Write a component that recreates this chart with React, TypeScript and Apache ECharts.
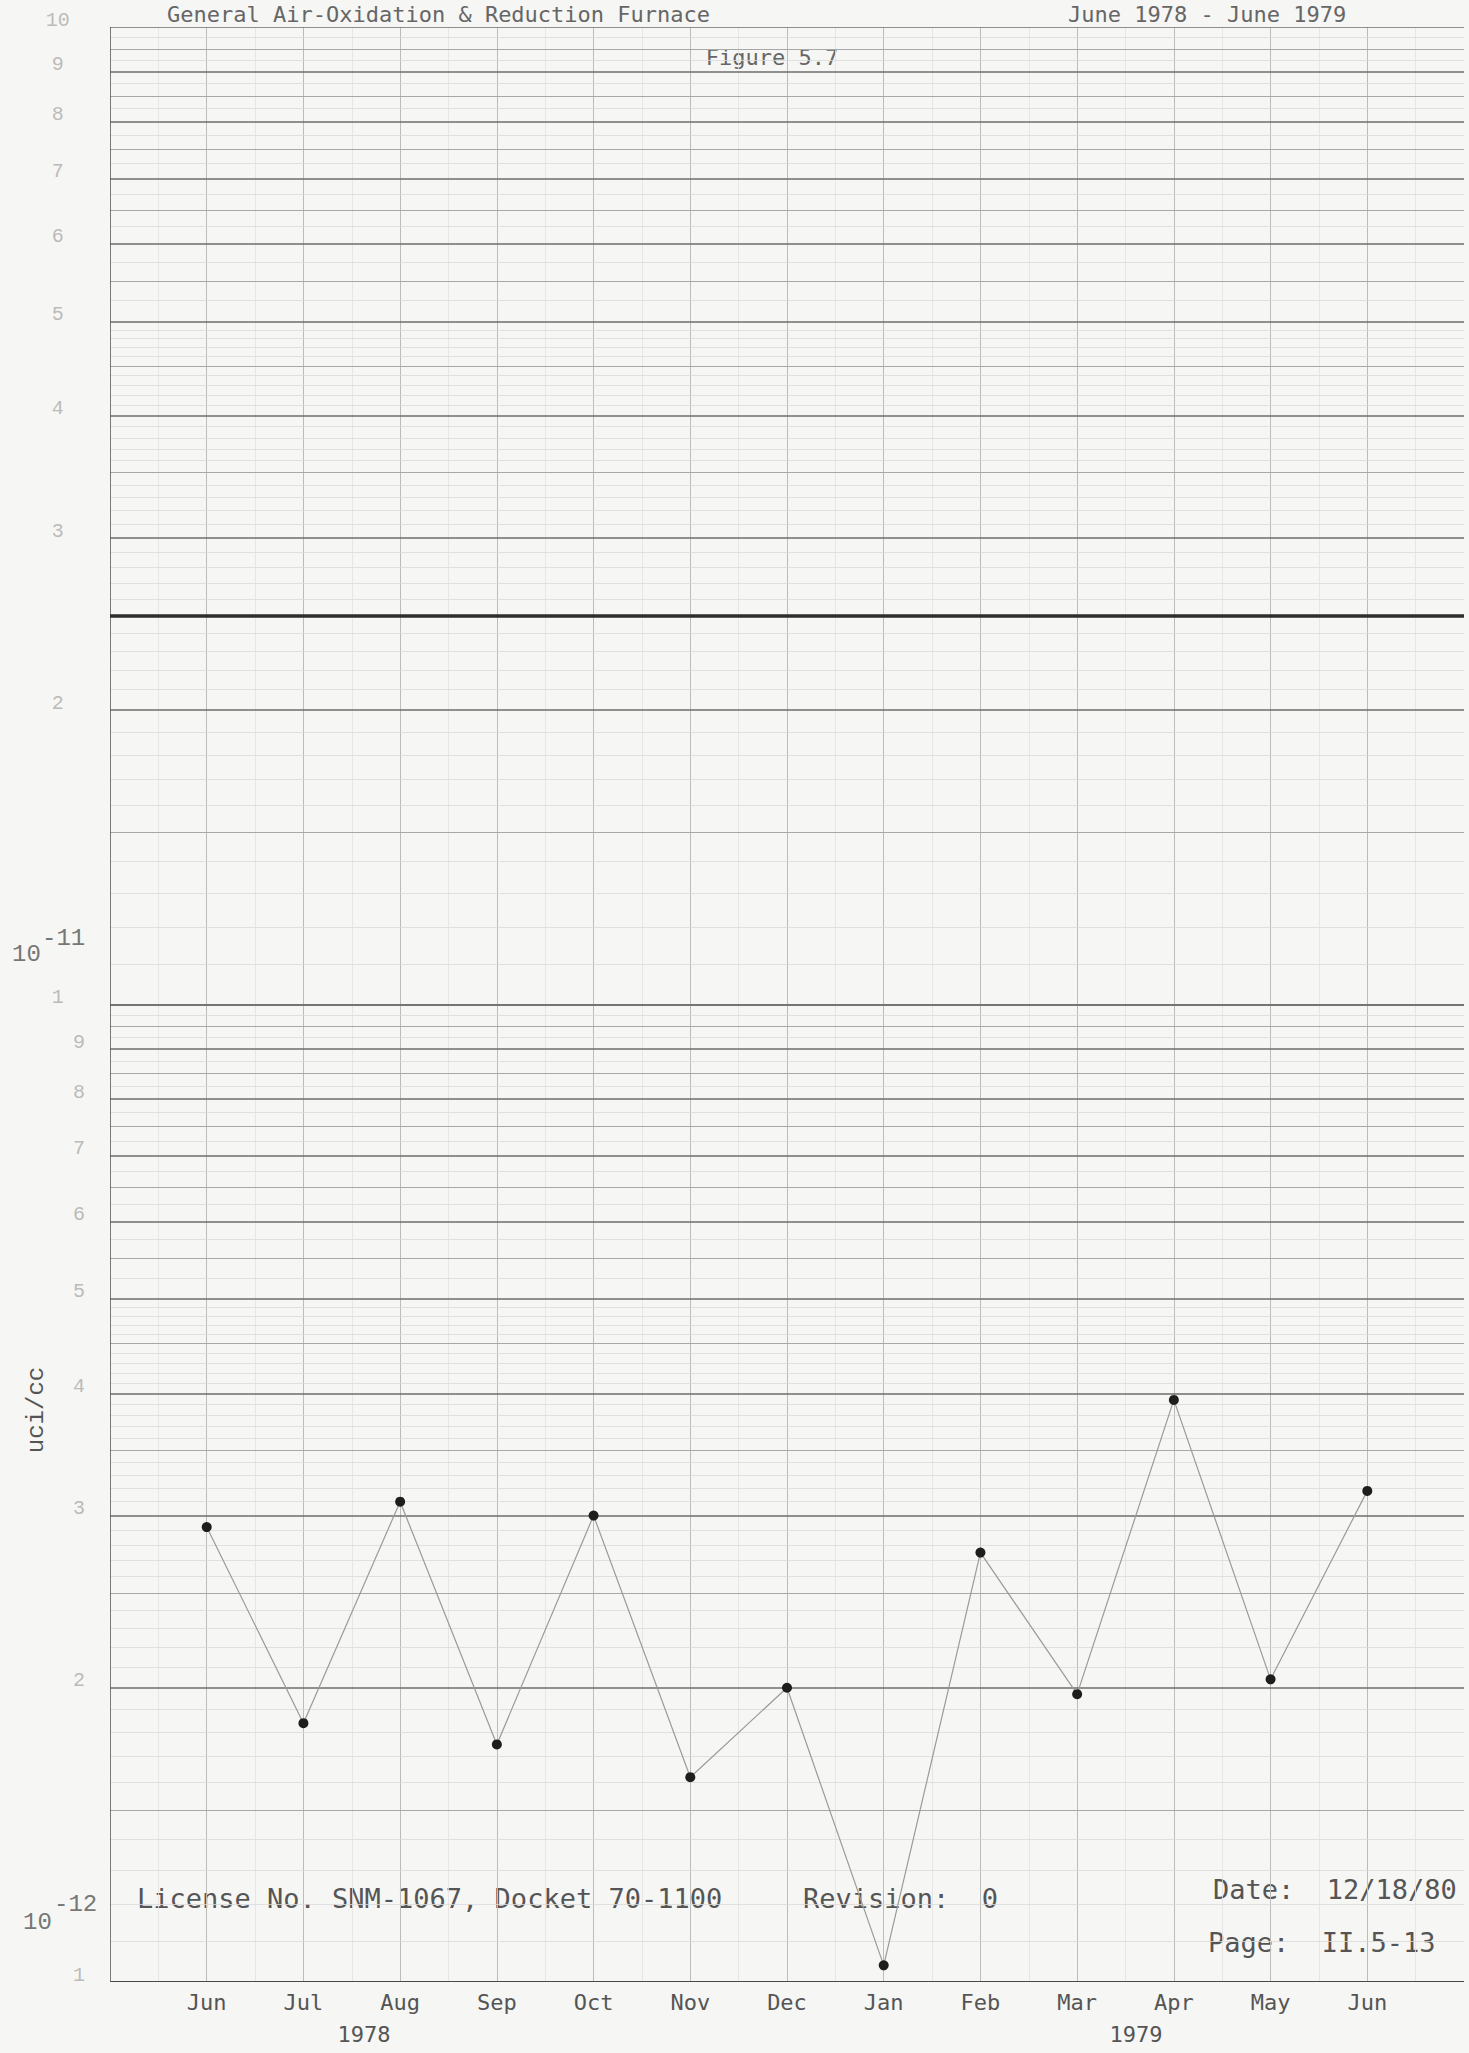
import React, { useEffect, useRef } from 'react';
import * as echarts from 'echarts';

// ---- data ----
const months = ['Jun', 'Jul', 'Aug', 'Sep', 'Oct', 'Nov', 'Dec', 'Jan', 'Feb', 'Mar', 'Apr', 'May', 'Jun'];
const concentration = [2.92e-12, 1.84e-12, 3.10e-12, 1.75e-12, 3.0e-12, 1.62e-12, 2.0e-12, 1.04e-12, 2.75e-12, 1.97e-12, 3.94e-12, 2.04e-12, 3.18e-12];
const upperTickDigits = ['10', '9', '8', '7', '6', '5', '4', '3', '2', '1'];
const upperTickValues = [1e-10, 9e-11, 8e-11, 7e-11, 6e-11, 5e-11, 4e-11, 3e-11, 2e-11, 1e-11];
const lowerTickDigits = ['9', '8', '7', '6', '5', '4', '3', '2', '1'];
const lowerTickValues = [9e-12, 8e-12, 7e-12, 6e-12, 5e-12, 4e-12, 3e-12, 2e-12, 1e-12];
const decadeBases = [1e-12, 1e-11];
const heavyLineValue = 2.5e-11;
const yearLabels = ['1978', '1979'];

const X_MIN = -1;
const X_MAX = 13;
const MONO = '"DejaVu Sans Mono", "Liberation Mono", monospace';
const TYPE = '"Liberation Mono", "DejaVu Sans Mono", monospace';

function hLine(v: number, lineStyle: any) {
  return { coords: [[X_MIN, v], [X_MAX, v]], lineStyle: { opacity: 1, ...lineStyle } };
}
function vLine(x: number, lineStyle: any) {
  return { coords: [[x, 1e-12], [x, 1e-10]], lineStyle: { opacity: 1, ...lineStyle } };
}

function buildGridLines() {
  const items: any[] = [];
  // vertical paper lines
  months.forEach((_, i) => {
    items.push(vLine(i - 0.5, { color: '#e2e2e2', width: 0.8 }));
    items.push(vLine(i, { color: '#bcbcbc', width: 1 }));
  });
  items.push(vLine(12.5, { color: '#e2e2e2', width: 0.8 }));
  // horizontal log-paper lines
  decadeBases.forEach((base) => {
    for (let m = 100; m < 1000; m += m < 500 ? 10 : 25) {
      const v = (base * m) / 100;
      if (m % 100 === 0) continue;
      if (m % 50 === 0) items.push(hLine(v, { color: '#a8a8a8', width: 1.1 }));
      else items.push(hLine(v, { color: '#dadada', width: 0.8 }));
    }
  });
  decadeBases.forEach((base) => {
    for (let m = 1; m <= 10; m++) {
      items.push(hLine(base * m, { color: '#6c6c6c', width: 1.6 }));
    }
  });
  items.push(hLine(1e-12, { color: '#4a4a4a', width: 2.2 }));
  items.push(vLine(X_MIN, { color: '#5a5a5a', width: 1.6 }));
  items.push(hLine(heavyLineValue, { color: '#2e2e2e', width: 3.5 }));
  return items;
}

function labelSeries(values: number[], digits: string[], xPos: number) {
  return {
    type: 'scatter',
    silent: true,
    clip: false,
    z: 3,
    symbolSize: 1,
    itemStyle: { color: 'transparent' },
    data: values.map((v, i) => ({ value: [xPos, v], name: digits[i] })),
    label: {
      show: true,
      position: 'inside',
      offset: [0, -7],
      formatter: (p: any) => p.name,
      fontFamily: TYPE,
      fontSize: 20,
      color: '#ababab',
    },
  };
}

function textEl(text: string, x: number, y: number, size: number, color: string, align = 'left', vAlign = 'middle', family = MONO, rotation = 0) {
  return {
    type: 'text',
    x,
    y,
    rotation,
    silent: true,
    style: {
      text,
      fill: color,
      font: `${size}px ${family}`,
      fontSize: size,
      fontFamily: family,
      align,
      verticalAlign: vAlign,
      textAlign: align,
      textVerticalAlign: vAlign,
    },
  };
}

export default function App() {
  const ref = useRef<HTMLDivElement>(null);

  useEffect(() => {
    if (!ref.current) return;
    const chart = echarts.init(ref.current, undefined, { renderer: 'svg' });
    const points = concentration.map((v, i) => [i, v]);

    const option: any = {
      animation: false,
      backgroundColor: '#f6f6f4',
      grid: { left: 110, right: 5, top: 27, bottom: 71 },
      xAxis: {
        type: 'value',
        min: X_MIN,
        max: X_MAX,
        interval: 1,
        axisLine: { show: false },
        axisTick: { show: false },
        splitLine: { show: false },
        axisLabel: {
          margin: 9,
          fontFamily: MONO,
          fontSize: 22,
          color: '#555',
          formatter: (v: number) => months[v] ?? '',
        },
      },
      yAxis: {
        type: 'log',
        logBase: 10,
        min: 1e-12,
        max: 1e-10,
        axisLine: { show: false },
        axisTick: { show: false },
        axisLabel: { show: false },
        splitLine: { show: false },
      },
      series: [
        {
          type: 'lines',
          coordinateSystem: 'cartesian2d',
          silent: true,
          z: 1,
          polyline: false,
          effect: { show: false },
          lineStyle: { opacity: 1 },
          data: buildGridLines(),
        },
        {
          type: 'line',
          name: 'uci/cc',
          z: 5,
          data: points,
          symbol: 'circle',
          symbolSize: 10,
          showSymbol: true,
          lineStyle: { color: '#9a9a9a', width: 1.2 },
          itemStyle: { color: '#1e1e1e' },
        },
        labelSeries(upperTickValues, upperTickDigits, -1.54),
        labelSeries(lowerTickValues, lowerTickDigits, -1.32),
      ],
      graphic: [
        textEl('General Air-Oxidation & Reduction Furnace', 167, 3, 22, '#666', 'left', 'top'),
        textEl('June 1978 - June 1979', 1068, 3, 22, '#666', 'left', 'top'),
        textEl('Figure 5.7', 772, 57, 22, '#666', 'center', 'middle'),
        textEl('10', 12, 966, 24, '#777', 'left', 'bottom', TYPE),
        textEl('-11', 42, 950, 24, '#777', 'left', 'bottom', TYPE),
        textEl('10', 23, 1934, 24, '#777', 'left', 'bottom', TYPE),
        textEl('-12', 54, 1916, 24, '#777', 'left', 'bottom', TYPE),
        textEl('uci/cc', 36, 1410, 24, '#555', 'center', 'middle', TYPE, Math.PI / 2),
        textEl('License No. SNM-1067, Docket 70-1100', 137, 1898, 27, '#555'),
        textEl('Revision:  0', 803, 1898, 27, '#555'),
        textEl('Date:  12/18/80', 1213, 1889, 27, '#555'),
        textEl('Page:  II.5-13', 1208, 1942, 27, '#555'),
        textEl(yearLabels[0], 364, 2034, 22, '#555', 'center', 'middle'),
        textEl(yearLabels[1], 1136, 2034, 22, '#555', 'center', 'middle'),
      ],
    };

    chart.setOption(option);
    return () => chart.dispose();
  }, []);

  return (
    <div
      ref={ref}
      style={{ position: 'absolute', left: 0, top: 0, width: 1469, height: 2053, background: '#f6f6f4' }}
    />
  );
}
